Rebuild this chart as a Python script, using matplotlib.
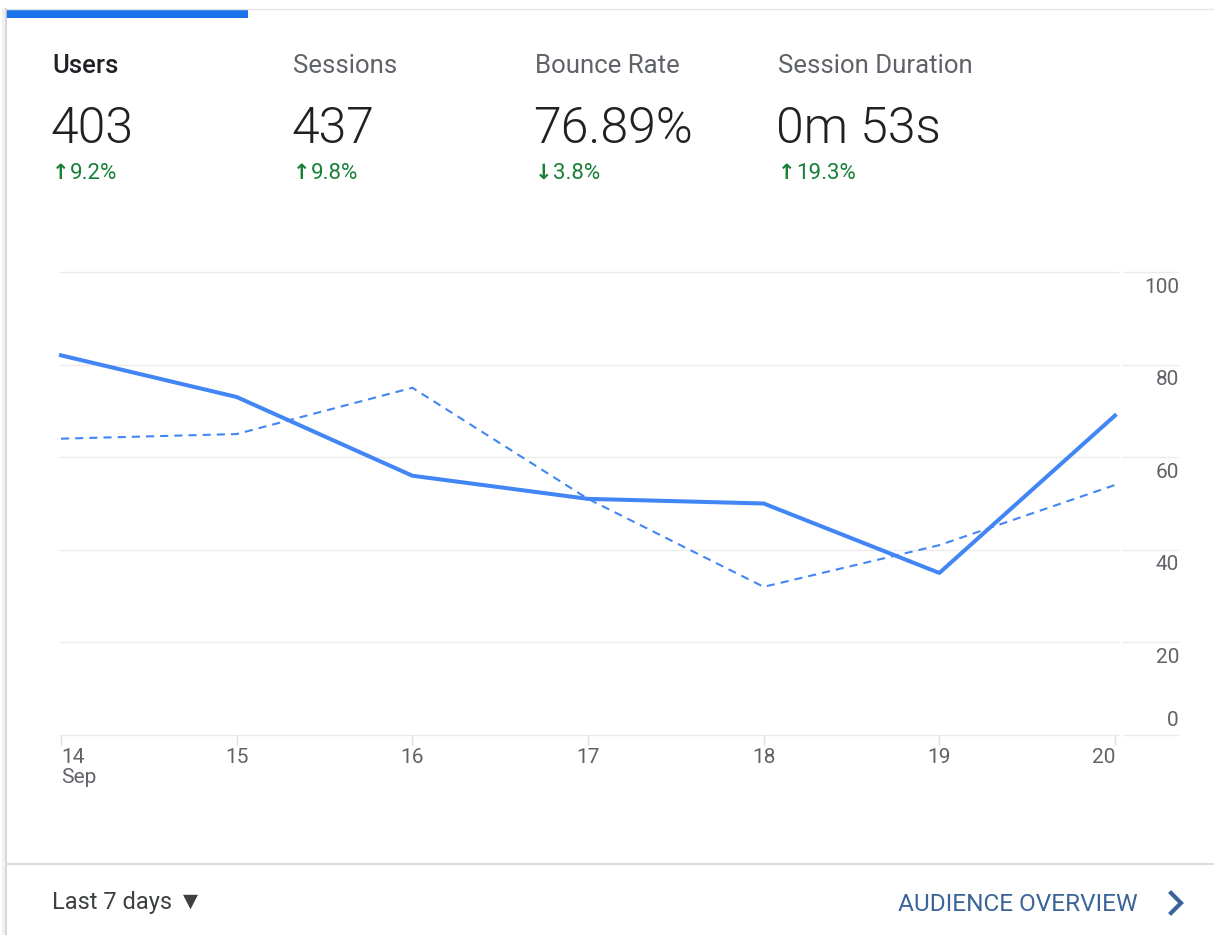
import matplotlib
matplotlib.use('Agg')
import matplotlib.pyplot as plt
from matplotlib.lines import Line2D
from matplotlib.patches import Rectangle
from matplotlib.transforms import offset_copy

# data
days = ['14', '15', '16', '17', '18', '19', '20']
month = 'Sep'
users = [82, 73, 56, 51, 50, 35, 69]
users_prev = [64, 65, 75, 51, 32, 41, 54]
y_ticks = [0, 20, 40, 60, 80, 100]

metric_names = ['Users', 'Sessions', 'Bounce Rate', 'Session Duration']
metric_values = ['403', '437', '76.89%', '0m 53s']
metric_changes = ['9.2%', '9.8%', '3.8%', '19.3%']
metric_up = [True, True, False, True]

W, H = 1214, 935
BLUE = '#4285f4'
GREEN = '#188038'
GREY = '#5f6368'
GRID = '#ebebeb'
FONT = ['Roboto', 'DejaVu Sans']

plt.rcParams['font.family'] = FONT

fig = plt.figure(figsize=(W / 100, H / 100), dpi=100)
fig.patch.set_facecolor('white')

fx = lambda x: x / W
fy = lambda y: 1 - y / H

# card frame
fig.add_artist(Line2D([fx(6), fx(W)], [fy(9), fy(9)], color='#e6e6e6', lw=1))
fig.add_artist(Line2D([fx(6), fx(6)], [fy(9), fy(H)], color='#d0d0d0', lw=1.2))
fig.add_artist(Line2D([fx(3), fx(3)], [fy(9), fy(H)], color='#f0f0f0', lw=2))
fig.add_artist(Rectangle((fx(6), fy(18)), fx(248) - fx(6), fy(10) - fy(18),
                         color='#1a73e8', lw=0))
fig.add_artist(Line2D([fx(6), fx(W)], [fy(864), fy(864)], color='#dadce0', lw=1.5))

# header metrics
cols = [52, 293, 535, 778]
for i in range(4):
    x = cols[i]
    if i == 0:
        fig.text(fx(x), fy(73), metric_names[i], fontsize=18.5, fontweight='medium',
                 color='#202124', va='baseline')
    else:
        fig.text(fx(x), fy(73), metric_names[i], fontsize=18.5, color=GREY, va='baseline')
    fig.text(fx(x - 2), fy(143), metric_values[i], fontsize=36, fontweight=300,
             color='#202124', va='baseline')
    arrow = '\u2191' if metric_up[i] else '\u2193'
    fig.text(fx(x), fy(179), arrow, fontsize=15, fontweight='bold', color=GREEN,
             va='baseline', family='DejaVu Sans')
    fig.text(fx(x + 18), fy(179), metric_changes[i], fontsize=16, color=GREEN, va='baseline')

# chart
ax = fig.add_axes([fx(61), fy(735), (1115 - 61) / W, (735 - 272) / H])
ax.set_xlim(0, 6)
ax.set_ylim(0, 100)
for s in ax.spines.values():
    s.set_visible(False)

for t in y_ticks:
    ax.axhline(t, xmin=-0.001, xmax=1.003, color=GRID, lw=1, zorder=0, clip_on=False)
    ax.axhline(t, xmin=1.0076, xmax=1.0598, color=GRID, lw=1, zorder=0, clip_on=False)

ax.set_yticks([])
ytrans = ax.get_yaxis_transform()
for t in y_ticks:
    off = 15 if t == 0 else -15
    ax.text(1.0607, t, str(t), transform=offset_copy(ytrans, fig=fig, y=off, units='dots'),
            ha='right', va='center', fontsize=15, color=GREY)

ax.set_xticks(range(len(days)))
ax.set_xticklabels([days[0] + '\n' + month] + days[1:])
ax.tick_params(axis='x', length=7.2, width=1, color='#e0e0e0', labelsize=15,
               labelcolor=GREY, pad=2)
labels = ax.get_xticklabels()
labels[0].set_ha('left')
labels[0].set_linespacing(1.1)
labels[-1].set_ha('right')

x = list(range(len(days)))
ax.plot(x, users_prev, color=BLUE, lw=1.5, dashes=(3.9, 2.9), zorder=3, clip_on=False)
ax.plot(x, users, color=BLUE, lw=2.9, zorder=4, clip_on=False)

# footer
fig.text(fx(52), fy(909), 'Last 7 days', fontsize=17, color='#3c4043', va='baseline')
fig.text(fx(183), fy(907), '\u25bc', fontsize=14, color='#3c4043', va='baseline',
         family='DejaVu Sans')
fig.text(fx(898), fy(911), 'AUDIENCE OVERVIEW', fontsize=17.6, color='#3b6499', va='baseline')
fig.add_artist(Line2D([fx(1171), fx(1181), fx(1171)], [fy(893), fy(903), fy(913)],
                      color='#3b6499', lw=3, solid_joinstyle='miter'))

fig.savefig('out.png', dpi=100, facecolor='white')
